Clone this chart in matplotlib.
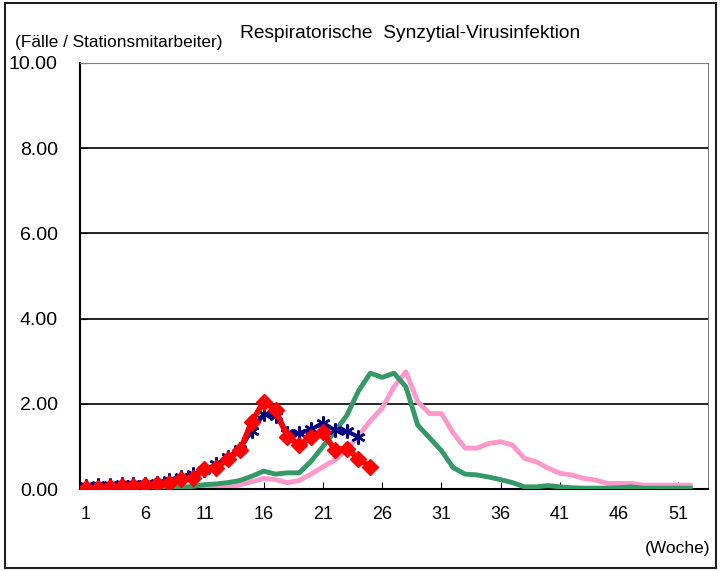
import numpy as np
import matplotlib.pyplot as plt
from matplotlib.patches import Rectangle

plt.rcParams['font.family'] = ['Liberation Sans', 'DejaVu Sans']

weeks = np.arange(1, 53)

# Saison 1 (rosa), Saison 2 (grün), Saison 3 (blau), aktuelle Saison (rot)
pink = [0.03, 0.03, 0.03, 0.03, 0.03, 0.03, 0.03, 0.03, 0.03, 0.03,
        0.03, 0.04, 0.05, 0.10, 0.17, 0.25, 0.22, 0.15, 0.20, 0.35,
        0.52, 0.68, 0.92, 1.25, 1.60, 1.90, 2.40, 2.75, 2.05, 1.77,
        1.77, 1.31, 0.96, 0.96, 1.07, 1.11, 1.03, 0.72, 0.64, 0.49,
        0.37, 0.33, 0.25, 0.21, 0.13, 0.13, 0.13, 0.09, 0.09, 0.09,
        0.09, 0.09]
green = [0.03, 0.03, 0.03, 0.03, 0.03, 0.03, 0.03, 0.03, 0.04, 0.06,
         0.10, 0.12, 0.15, 0.20, 0.30, 0.42, 0.35, 0.38, 0.38, 0.65,
         1.00, 1.35, 1.72, 2.30, 2.72, 2.62, 2.72, 2.40, 1.50, 1.20,
         0.90, 0.50, 0.35, 0.33, 0.28, 0.22, 0.15, 0.05, 0.05, 0.08,
         0.05, 0.03, 0.02, 0.02, 0.02, 0.03, 0.05, 0.02, 0.02, 0.02,
         0.02, 0.02]
blue = [0.08, 0.10, 0.10, 0.12, 0.12, 0.12, 0.15, 0.20, 0.28, 0.35,
        0.45, 0.58, 0.75, 0.95, 1.36, 1.75, 1.71, 1.31, 1.31, 1.40,
        1.55, 1.38, 1.36, 1.22]
red = [0.02, 0.03, 0.05, 0.07, 0.08, 0.10, 0.12, 0.15, 0.23, 0.25,
       0.46, 0.50, 0.70, 0.91, 1.58, 2.05, 1.85, 1.23, 1.04, 1.21,
       1.33, 0.92, 0.95, 0.71, 0.52]

fig = plt.figure(figsize=(7.21, 5.71), dpi=100)
ax = fig.add_axes([0.111, 0.1436, 0.871, 0.7461])

ax.plot(weeks, pink, color='#FF99CC', lw=3.5, zorder=2)
ax.plot(weeks, green, color='#339966', lw=3.5, zorder=3)
ax.plot(weeks[:len(blue)], blue, color='#000080', lw=3, marker=(6, 2, 0),
        ms=10, mew=1.8, zorder=4)
ax.plot(weeks[:len(red)], red, color='#FF0000', lw=4, marker='D',
        ms=8.5, zorder=5)

ax.set_xlim(0.5, 53.5)
ax.set_ylim(0, 10)
ax.set_xticks(np.arange(1, 53, 5))
ax.set_yticks(np.arange(0, 10.1, 2))
ax.set_yticklabels(['%.2f' % v for v in np.arange(0, 10.1, 2)])
ax.tick_params(axis='x', direction='in', length=5, labelsize=13, pad=12)
ax.tick_params(axis='y', direction='in', length=5, labelsize=14, pad=16)
ax.grid(axis='y', color='black', lw=1.2)

for s in ['top', 'right']:
    ax.spines[s].set_color('#808080')
for s in ['left', 'bottom']:
    ax.spines[s].set_color('black')
    ax.spines[s].set_linewidth(1.5)

fig.text(0.569, 0.942, 'Respiratorische  Synzytial-Virusinfektion',
         ha='center', va='center', fontsize=13.8)
fig.text(0.021, 0.926, '(Fälle / Stationsmitarbeiter)', ha='left',
         va='center', fontsize=12.4)
fig.text(0.985, 0.04, '(Woche)', ha='right', va='center', fontsize=12.5)

fig.patches.append(Rectangle((0.007, 0.005), 0.986, 0.99,
                             transform=fig.transFigure, fill=False,
                             edgecolor='#202020', lw=1.5))

fig.savefig('out.png', dpi=100)
